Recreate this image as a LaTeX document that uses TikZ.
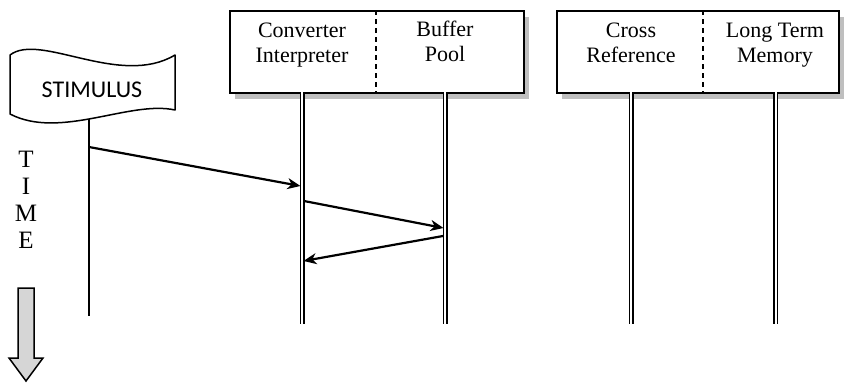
\documentclass[tikz,border=0pt]{standalone}
\usepackage{fontspec}
\setmainfont{Liberation Serif}
\newfontfamily\labelsans{Carlito}
\usetikzlibrary{arrows.meta,shadows}
\begin{document}
\begin{tikzpicture}[x=1pt,y=-1pt,
  objbox/.style={draw, line width=2pt, fill=white, anchor=north west,
    drop shadow={shadow xshift=5pt, shadow yshift=-6pt, fill=black!25, opacity=1}},
  divider/.style={line width=1.6pt, dash pattern=on 5pt off 4pt},
  lifeline/.style={line width=1.5pt, double, double distance=2pt},
  stimline/.style={line width=1.6pt},
  msg/.style={line width=2.2pt, -{Stealth[length=13pt,width=11pt,inset=4pt]}},
  objtext/.style={font=\fontsize{22}{25}\selectfont, align=center},
  timetext/.style={font=\fontsize{25}{27}\selectfont, align=center},
  flagshape/.style={draw, line width=1.5pt, fill=white, line join=round},
  timearrow/.style={draw, line width=1.5pt, fill=black!16, line join=miter},
]
\useasboundingbox (0,0) rectangle (844,383);

% object boxes
\node[objbox, minimum width=294pt, minimum height=82pt] (objA) at (229,10) {};
\node[objbox, minimum width=282pt, minimum height=82pt] (objB) at (556,10) {};
\draw[divider] (376,10) -- (376,92);
\draw[divider] (703,10) -- (703,92);

\node[objtext] (conv) at (302,45) {\strut Converter\\\strut Interpreter};
\node[objtext] (buff) at (445,44) {\strut Buffer\\\strut Pool};
\node[objtext] (cross) at (631,45) {\strut Cross\\\strut Reference};
\node[objtext] (ltm) at (775,45) {\strut Long Term\\\strut Memory};

% lifelines
\coordinate (convTop) at (302,92);  \coordinate (convEnd) at (302,324);
\coordinate (buffTop) at (445,92);  \coordinate (buffEnd) at (445,324);
\coordinate (crossTop) at (631,92); \coordinate (crossEnd) at (631,324);
\coordinate (ltmTop) at (775.5,92); \coordinate (ltmEnd) at (775.5,324);
\draw[lifeline] (convTop) -- (convEnd);
\draw[lifeline] (buffTop) -- (buffEnd);
\draw[lifeline] (crossTop) -- (crossEnd);
\draw[lifeline] (ltmTop) -- (ltmEnd);

% stimulus flag and its lifeline
\coordinate (stimTop) at (89,105);
\coordinate (stimEnd) at (89,316);
\draw[stimline] (stimTop) -- (stimEnd);
\path[flagshape] (10,55) .. controls (40,32) and (120,88) .. (175,55)
  -- (175,110) .. controls (130,100) and (60,140) .. (10,114) -- cycle;
\node[font=\labelsans\fontsize{24}{28}\selectfont] (stim) at (92,90) {STIMULUS};

% messages
\coordinate (m1a) at (89,147);  \coordinate (m1b) at (300.5,186);
\coordinate (m2a) at (304,201); \coordinate (m2b) at (443.5,228);
\coordinate (m3a) at (443,236); \coordinate (m3b) at (303.5,261);
\draw[msg] (m1a) -- (m1b);
\draw[msg] (m2a) -- (m2b);
\draw[msg] (m3a) -- (m3b);

% time axis
\node[timetext] (time) at (26,203) {\strut T\\\strut I\\\strut M\\\strut E};
\path[timearrow] (18,288) -- (34,288) -- (34,358) -- (43,358) -- (26,381)
  -- (9,358) -- (18,358) -- cycle;
\end{tikzpicture}
\end{document}
